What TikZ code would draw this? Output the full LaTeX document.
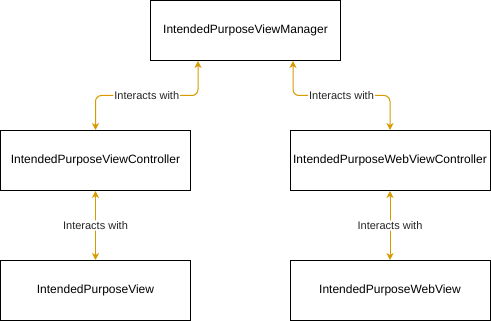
\documentclass[tikz,border=0pt]{standalone}
\usepackage{fontspec}
\setmainfont{Liberation Sans}
\usetikzlibrary{arrows.meta,calc}
\definecolor{linkcol}{HTML}{D79B00}
\begin{document}
\begin{tikzpicture}[x=1pt,y=-1pt,
  box/.style={draw=black,line width=1pt,fill=white,inner sep=0pt,
    minimum height=60pt,font=\fontsize{12}{14}\selectfont},
  narrow/.style={box,minimum width=190pt},
  wide/.style={box,minimum width=200pt},
  link/.style={draw=linkcol,line width=1pt,rounded corners=6pt,
    {Stealth[length=7pt,width=7pt,inset=2pt]}-{Stealth[length=7pt,width=7pt,inset=2pt]}},
  lbl/.style={fill=white,inner sep=1pt,text=black!85,font=\fontsize{11}{13}\selectfont}]
\useasboundingbox (0,0) rectangle (491,321);

\node[narrow] (mgr) at (245.5,30.5) {IntendedPurposeViewManager};
\node[narrow] (lc) at (95.5,160.5) {IntendedPurposeViewController};
\node[wide] (rc) at (390,160.5) {IntendedPurposeWebViewController};
\node[narrow] (lv) at (95.5,290.5) {IntendedPurposeView};
\node[wide] (rv) at (390,290.5) {IntendedPurposeWebView};

% mid heights of the elbow connectors
\coordinate (m1) at ($(mgr.south)!.5!(lc.north)$);

\draw[link] ([xshift=-47.5pt]mgr.south) |- (lc.north |- m1)
  node[lbl,pos=0.75] {Interacts with} -- (lc.north);
\draw[link] ([xshift=47.5pt]mgr.south) |- (rc.north |- m1)
  node[lbl,pos=0.75] {Interacts with} -- (rc.north);

\draw[link] (lc.south) -- node[lbl] {Interacts with} (lv.north);
\draw[link] (rc.south) -- node[lbl] {Interacts with} (rv.north);
\end{tikzpicture}
\end{document}
